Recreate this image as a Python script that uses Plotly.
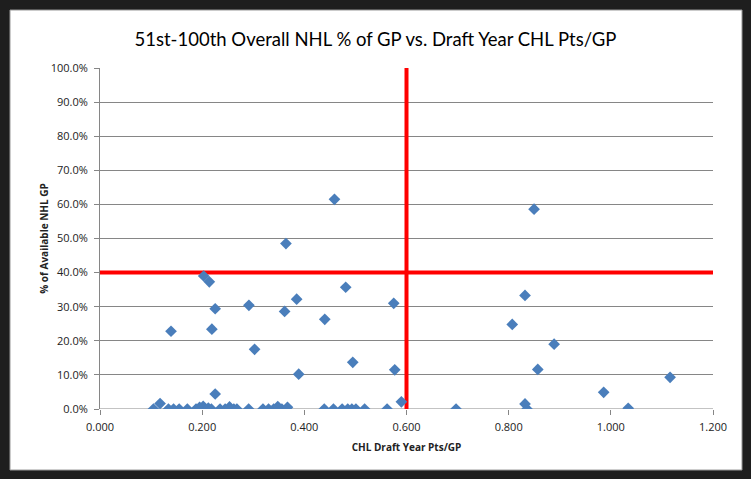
import plotly.graph_objects as go

# Data: CHL draft-year points per game vs % of available NHL GP
pts_per_gp = [
    0.459, 0.364, 0.203, 0.214, 0.2255, 0.139, 0.219, 0.2255, 0.2915, 0.3026,
    0.3614, 0.385, 0.389, 0.440, 0.481, 0.4948, 0.575, 0.577, 0.590,
    0.8497, 0.832, 0.807, 0.889, 0.857, 1.116, 0.986, 0.832, 0.836, 0.697, 1.034,
    0.1046, 0.1176, 0.134, 0.144, 0.155, 0.171, 0.188, 0.195, 0.202, 0.212,
    0.218, 0.235, 0.245, 0.2536, 0.262, 0.268, 0.291, 0.319, 0.330, 0.340,
    0.348, 0.356, 0.367, 0.439, 0.457, 0.474, 0.485, 0.493, 0.501, 0.518, 0.562,
]
pct_nhl_gp = [
    0.615, 0.485, 0.390, 0.373, 0.294, 0.228, 0.234, 0.044, 0.304, 0.175,
    0.286, 0.322, 0.102, 0.263, 0.357, 0.137, 0.310, 0.115, 0.021,
    0.586, 0.333, 0.248, 0.190, 0.116, 0.093, 0.049, 0.015, 0.000, 0.000, 0.002,
    0.000, 0.016, 0.000, 0.000, 0.000, 0.000, 0.000, 0.005, 0.008, 0.003,
    0.000, 0.000, 0.000, 0.006, 0.000, 0.000, 0.000, 0.000, 0.000, 0.000,
    0.007, 0.000, 0.005, 0.000, 0.000, 0.000, 0.000, 0.000, 0.000, 0.000, 0.000,
]

# Reference lines
x_threshold = 0.6
y_threshold = 0.40

x_ticks = [0.0, 0.2, 0.4, 0.6, 0.8, 1.0, 1.2]
y_ticks = [0.0, 0.1, 0.2, 0.3, 0.4, 0.5, 0.6, 0.7, 0.8, 0.9, 1.0]

title_text = "51st-100th Overall NHL % of GP vs. Draft Year CHL Pts/GP"
x_title = "CHL Draft Year Pts/GP"
y_title = "% of Available NHL GP"

fig = go.Figure()

# red threshold lines drawn as data traces
fig.add_trace(go.Scatter(
    x=[x_ticks[0], x_ticks[-1]], y=[y_threshold, y_threshold],
    mode="lines", line=dict(color="#ff0000", width=4),
    hoverinfo="skip", showlegend=False,
))
fig.add_trace(go.Scatter(
    x=[x_threshold, x_threshold], y=[y_ticks[0], y_ticks[-1]],
    mode="lines", line=dict(color="#ff0000", width=4),
    hoverinfo="skip", showlegend=False,
))

fig.add_trace(go.Scatter(
    x=pts_per_gp, y=pct_nhl_gp, mode="markers",
    marker=dict(symbol="diamond", size=9, color="#4A7EBB"),
    showlegend=False,
))

# white chart area with dark outer frame
fig.add_shape(type="rect", xref="paper", yref="paper",
              x0=-0.1468, x1=1.0473, y0=-0.1789, y1=1.170,
              fillcolor="white", line=dict(color="#9a9a9a", width=1),
              layer="below")

fig.update_layout(
    width=751, height=479,
    margin=dict(l=100, r=38, t=68, b=70),
    paper_bgcolor="#1e1e1e",
    plot_bgcolor="rgba(0,0,0,0)",
    font=dict(family="Lato, Open Sans, sans-serif", color="#000000"),
    title=dict(text=title_text, x=0.5, xref="container", xanchor="center",
               y=1 - 40 / 479, yanchor="middle",
               font=dict(size=18.5, family="Lato, sans-serif", color="#000000")),
    xaxis=dict(
        range=[0, 1.2], tickvals=x_ticks,
        ticktext=[f"{v:.3f}" for v in x_ticks],
        showgrid=False, zeroline=False, showline=False,
        ticks="outside", ticklen=5, tickcolor="#868686",
        ticklabelstandoff=3,
        tickfont=dict(size=11, family="Open Sans, sans-serif", color="#222"),
        title=dict(text=f"<b>{x_title}</b>", standoff=10,
                   font=dict(size=10, family="Open Sans, sans-serif", color="#222")),
    ),
    yaxis=dict(
        range=[0, 1.0], tickvals=y_ticks,
        ticktext=[f"{v*100:.1f}%" for v in y_ticks],
        showgrid=True, gridcolor="#868686", gridwidth=1,
        zeroline=False, showline=True, linecolor="#868686", linewidth=1,
        ticks="outside", ticklen=5, tickcolor="#868686",
        ticklabelstandoff=4,
        tickfont=dict(size=11, family="Open Sans, sans-serif", color="#222"),
        title=dict(text=f"<b>{y_title}</b>", standoff=0,
                   font=dict(size=10, family="Open Sans, sans-serif", color="#222")),
    ),
)

# x axis baseline at y=0
fig.add_shape(type="line", xref="x", yref="y", x0=0, x1=1.2, y0=0, y1=0,
              line=dict(color="#868686", width=1), layer="below")

fig.write_html(
    "out.html",
    config={"displayModeBar": False},
    post_script="document.body.style.margin='0';document.body.style.background='#1e1e1e';",
)
